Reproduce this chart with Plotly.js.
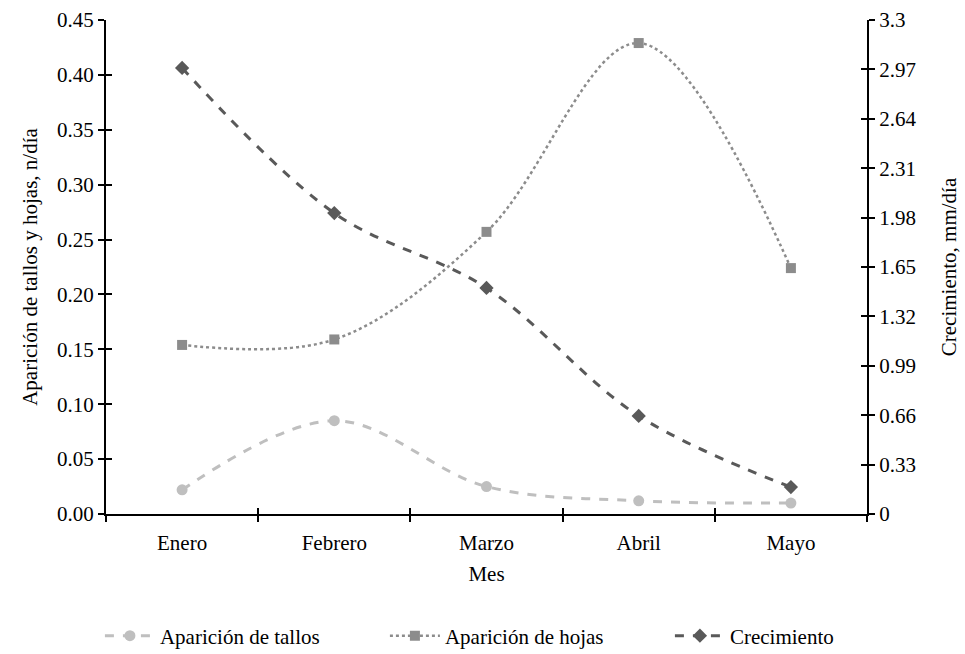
<!DOCTYPE html>
<html>
<head>
<meta charset="utf-8">
<script src="https://cdn.plot.ly/plotly-3.0.1.min.js"></script>
<style>html,body{margin:0;padding:0;background:#fff;}#chart{width:965px;height:654px;}</style>
</head>
<body>
<div id="chart"></div>
<script>
const months = ["Enero", "Febrero", "Marzo", "Abril", "Mayo"];
const tallos = [0.022, 0.085, 0.025, 0.012, 0.010];
const hojas = [0.154, 0.159, 0.257, 0.429, 0.224];
const crecimiento = [2.98, 2.01, 1.51, 0.655, 0.18];
const leftTicks = [0, 0.05, 0.10, 0.15, 0.20, 0.25, 0.30, 0.35, 0.40, 0.45];
const rightTicks = [0, 0.33, 0.66, 0.99, 1.32, 1.65, 1.98, 2.31, 2.64, 2.97, 3.3];
const rightTickText = ["0", "0.33", "0.66", "0.99", "1.32", "1.65", "1.98", "2.31", "2.64", "2.97", "3.3"];

function F() { return {family: "Liberation Serif", size: 21, color: "#000"}; }

const traces = [
  {x: months, y: tallos, name: "Aparición de tallos", type: "scatter", mode: "lines+markers",
   line: {color: "#bfbfbf", width: 3, dash: "dash", shape: "spline", smoothing: 1},
   marker: {symbol: "circle", size: 11, color: "#bfbfbf"}, yaxis: "y"},
  {x: months, y: hojas, name: "Aparición de hojas", type: "scatter", mode: "lines+markers",
   line: {color: "#8c8c8c", width: 2.5, dash: "dot", shape: "spline", smoothing: 1},
   marker: {symbol: "square", size: 10, color: "#8c8c8c"}, yaxis: "y"},
  {x: months, y: crecimiento, name: "Crecimiento", type: "scatter", mode: "lines+markers",
   line: {color: "#595959", width: 3, dash: "dash", shape: "spline", smoothing: 1},
   marker: {symbol: "diamond", size: 11, color: "#595959"}, yaxis: "y2"}
];

const layout = {
  width: 965, height: 654,
  margin: {l: 106, r: 98, t: 20, b: 140, autoexpand: false},
  paper_bgcolor: "#fff", plot_bgcolor: "#fff",
  font: F(),
  showlegend: true,
  legend: {orientation: "h", x: -0.008, xanchor: "left", y: -0.247, yanchor: "middle",
           font: F(), traceorder: "normal", entrywidth: 220, itemwidth: 50},
  xaxis: {type: "category", range: [-0.5, 4.5], showgrid: false, zeroline: false,
          showline: true, linecolor: "#000", linewidth: 2,
          ticks: "outside", ticklen: 6, tickwidth: 2, tickcolor: "#000", tickson: "boundaries",
          ticklabelstandoff: 9,
          tickfont: F(), title: {text: "Mes", font: F(), standoff: 12}},
  xaxis2: {overlaying: "x", type: "category", range: [-0.5, 4.5], showgrid: false, zeroline: false,
           ticks: "inside", ticklen: 6, tickwidth: 2, tickcolor: "#000", tickson: "boundaries",
           showticklabels: false, anchor: "y", side: "bottom", matches: "x"},
  yaxis: {range: [0, 0.45], tickvals: leftTicks, tickformat: ".2f", showgrid: false, zeroline: false,
          showline: true, linecolor: "#000", linewidth: 2,
          ticks: "outside", ticklen: 6, tickwidth: 2, tickcolor: "#000",
          tickfont: F(), title: {text: "Aparición de tallos y hojas, n/día", font: F(), standoff: 14}},
  yaxis2: {range: [0, 3.3], tickvals: rightTicks, ticktext: rightTickText, overlaying: "y", side: "right",
           showgrid: false, zeroline: false, showline: true, linecolor: "#000", linewidth: 2,
           ticks: "outside", ticklen: 6, tickwidth: 2, tickcolor: "#000",
           tickfont: F(), title: {text: "Crecimiento, mm/día", font: F(), standoff: 26}},
  yaxis3: {range: [0, 0.45], tickvals: leftTicks, overlaying: "y", side: "left", anchor: "x",
           showgrid: false, zeroline: false, showticklabels: false,
           ticks: "inside", ticklen: 6, tickwidth: 2, tickcolor: "#000"},
  yaxis4: {range: [0, 3.3], tickvals: rightTicks, overlaying: "y", side: "right", anchor: "x",
           showgrid: false, zeroline: false, showticklabels: false,
           ticks: "inside", ticklen: 6, tickwidth: 2, tickcolor: "#000"}
};

traces.push({x: months, y: [null, null, null, null, null], xaxis: "x2", yaxis: "y3", showlegend: false, hoverinfo: "skip", mode: "lines"});
traces.push({x: months, y: [null, null, null, null, null], xaxis: "x", yaxis: "y4", showlegend: false, hoverinfo: "skip", mode: "lines"});

Plotly.newPlot("chart", traces, layout, {displayModeBar: false, staticPlot: true});
</script>
</body>
</html>
